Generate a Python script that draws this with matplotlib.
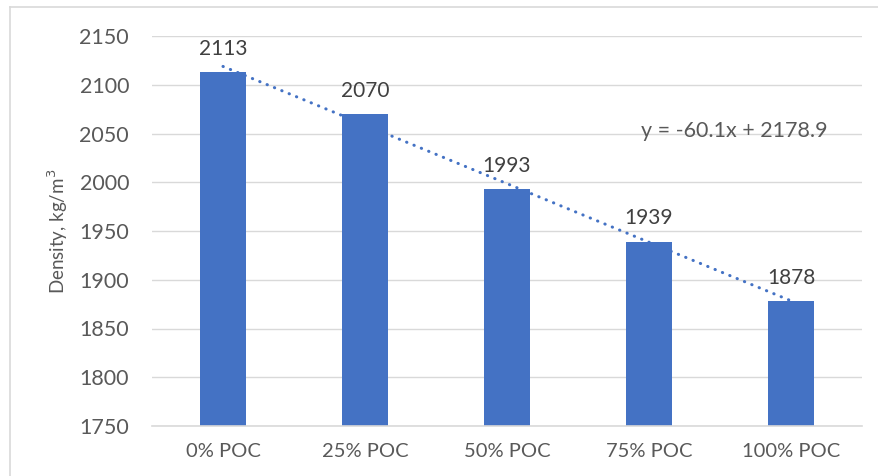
import numpy as np
import matplotlib.pyplot as plt
from matplotlib.lines import Line2D

# Data
categories = ["0% POC", "25% POC", "50% POC", "75% POC", "100% POC"]
density = [2113, 2070, 1993, 1939, 1878]
trend_slope = -60.1
trend_intercept = 2178.9

plt.rcParams['font.family'] = ['Lato', 'DejaVu Sans']
txt = '#595959'
bar_color = '#4472C4'

fig = plt.figure(figsize=(8.79, 4.76), dpi=100)
ax = fig.add_axes([152 / 879, 1 - 426 / 476, 710 / 879, 390 / 476])

x = np.arange(len(categories))
bars = ax.bar(x, density, width=0.32, color=bar_color, zorder=2)

# data labels
for xi, v in zip(x, density):
    ax.annotate(str(v), (xi, v), xytext=(0, 12.5), textcoords='offset points',
                ha='center', va='baseline', fontsize=15, color='#404040')

# linear trendline (Excel x = 1..n)
tx = np.array([1, len(categories)])
ty = trend_slope * tx + trend_intercept
ax.plot(tx - 1, ty, linestyle=(0, (0.1, 2.5)), dash_capstyle='round',
        color=bar_color, lw=2.2, zorder=3)
ax.text(3.6, 2052.6, "y = -60.1x + 2178.9", ha='center', va='center',
        fontsize=15.5, color=txt)

ax.set_xlim(-0.5, len(categories) - 0.5)
ax.set_ylim(1750, 2150)
ax.set_yticks(np.arange(1750, 2151, 50))
ax.set_xticks(x)
ax.set_xticklabels(categories)
ax.yaxis.grid(True, color='#D9D9D9', lw=1, zorder=0)
ax.set_axisbelow(True)
for s in ['top', 'right', 'left']:
    ax.spines[s].set_visible(False)
ax.spines['bottom'].set_color('#D9D9D9')
ax.spines['bottom'].set_linewidth(1.2)
ax.tick_params(axis='both', length=0, colors=txt)
ax.tick_params(axis='y', labelsize=15.5, pad=16.5)
ax.tick_params(axis='x', labelsize=14.5, pad=12)
ax.set_ylabel("Density, kg/m$^3$", fontsize=13.5, color=txt)
ax.yaxis.set_label_coords(-0.115, 0.5)

# chart border (top and left visible)
fig.add_artist(Line2D([10 / 879, 1], [1 - 7 / 476, 1 - 7 / 476], color='#D9D9D9', lw=1.2,
                      transform=fig.transFigure))
fig.add_artist(Line2D([10 / 879, 10 / 879], [0, 1 - 7 / 476], color='#D9D9D9', lw=1.2,
                      transform=fig.transFigure))

fig.savefig("out.png", dpi=100)
